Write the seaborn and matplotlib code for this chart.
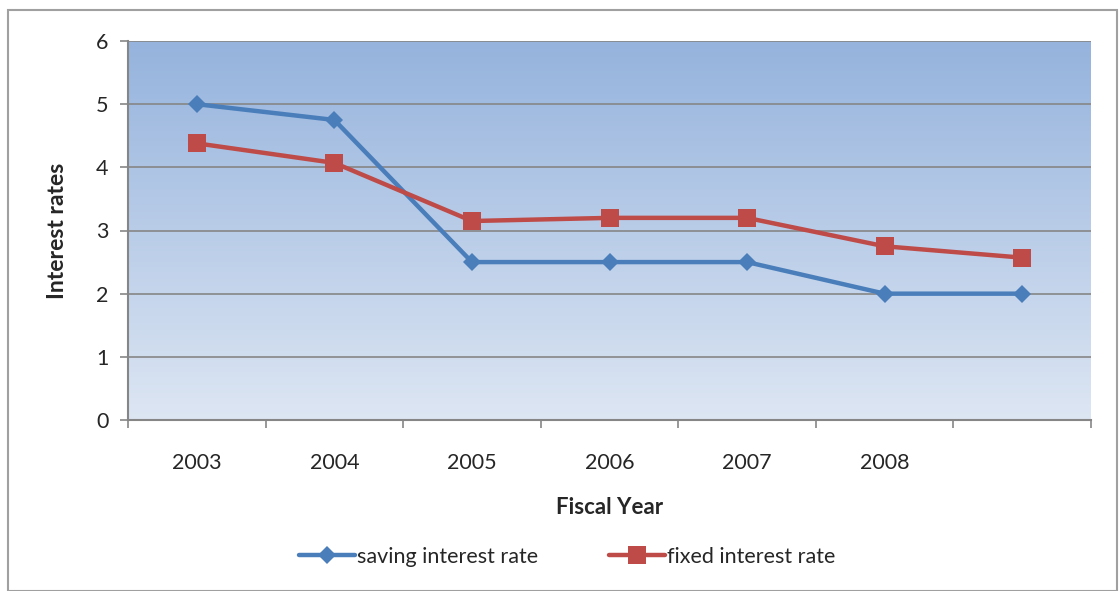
import numpy as np
import pandas as pd
import matplotlib
matplotlib.use("Agg")
import matplotlib.pyplot as plt
import seaborn as sns
from matplotlib.colors import LinearSegmentedColormap
from matplotlib.lines import Line2D

# ---- data ----
years = ["2003", "2004", "2005", "2006", "2007", "2008", ""]
saving_rate = [5.0, 4.75, 2.5, 2.5, 2.5, 2.0, 2.0]
fixed_rate = [4.38, 4.07, 3.15, 3.2, 3.2, 2.75, 2.57]
series_names = ["saving interest rate", "fixed interest rate"]
y_ticks = [0, 1, 2, 3, 4, 5, 6]

sns.set_theme(style="white")
plt.rcParams["font.family"] = ["Lato", "DejaVu Sans"]

pos = np.arange(len(years))
df = pd.DataFrame({
    "pos": np.concatenate([pos, pos]),
    "rate": saving_rate + fixed_rate,
    "series": [series_names[0]] * len(years) + [series_names[1]] * len(years),
})

fig = plt.figure(figsize=(11.19, 5.91), dpi=100)
ax = fig.add_axes([128 / 1119, 171 / 591, 963 / 1119, 379 / 591])

# gradient background
cmap = LinearSegmentedColormap.from_list("bg", ["#dde6f3", "#95b3dd"])
grad = np.linspace(0, 1, 256).reshape(-1, 1)
ax.imshow(grad, cmap=cmap, aspect="auto", origin="lower",
          extent=[0, 1, 0, 1], transform=ax.transAxes, zorder=0)

colors = {series_names[0]: "#4a7ebb", series_names[1]: "#be4b48"}
sns.lineplot(data=df, x="pos", y="rate", hue="series", style="series",
             palette=colors, markers={series_names[0]: "D", series_names[1]: "s"},
             dashes=False, linewidth=3.2, markersize=9, markeredgewidth=0,
             ax=ax, zorder=3, legend=False)
for line in ax.lines:
    if line.get_marker() == "s":
        line.set_markersize(13)

ax.set_xlim(-0.5, len(years) - 0.5)
ax.set_ylim(0, 6)
ax.set_yticks(y_ticks)
ax.set_yticklabels([str(t) for t in y_ticks], fontsize=15.5)
ax.grid(False)
for t in y_ticks[1:]:
    ax.axhline(t, color="#868686", linewidth=1.2, zorder=1)

# x ticks: marks at category boundaries, labels at centers
ax.set_xticks(pos)
ax.set_xticklabels(years, fontsize=15.5)
ax.tick_params(axis="x", length=0, pad=24)
ax.set_xticks(np.arange(-0.5, len(years)), minor=True)
ax.tick_params(axis="x", which="minor", length=6, width=1.2, color="#868686", direction="out")
ax.tick_params(axis="y", length=6, width=1.2, color="#868686", direction="out", pad=8)
ax.xaxis.set_ticks_position("bottom")
ax.yaxis.set_ticks_position("left")

for side in ["top", "right"]:
    ax.spines[side].set_visible(False)
for side in ["left", "bottom"]:
    ax.spines[side].set_color("#868686")
    ax.spines[side].set_linewidth(1.5)

ax.set_xlabel("Fiscal Year", fontsize=16, fontweight="bold", labelpad=17)
ax.set_ylabel("Interest rates", fontsize=16.5, fontweight="bold", labelpad=20)

# legend
handles = [
    Line2D([], [], color=colors[series_names[0]], marker="D", markersize=9,
           linewidth=3.2, markeredgewidth=0),
    Line2D([], [], color=colors[series_names[1]], marker="s", markersize=13,
           linewidth=3.2, markeredgewidth=0),
]
fig.legend(handles, series_names, loc="center", bbox_to_anchor=(567 / 1119, 1 - 557 / 591),
           ncol=2, frameon=False, fontsize=15.5, handlelength=2.6, handletextpad=0.1,
           columnspacing=3.3)

# outer frame
frame = plt.Rectangle((8 / 1119, 0), 1109 / 1119, 1 - 10 / 591, transform=fig.transFigure,
                      fill=False, edgecolor="#a0a0a0", linewidth=1.5)
fig.add_artist(frame)

fig.savefig("out.png", dpi=100)
